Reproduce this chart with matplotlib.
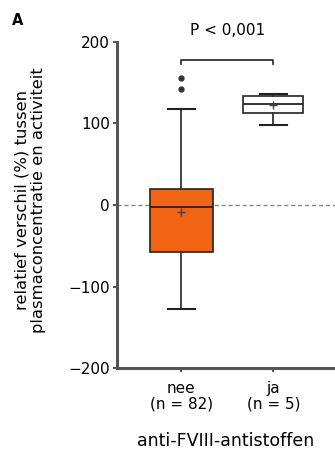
import matplotlib.pyplot as plt

plt.rcParams['font.family'] = ['DejaVu Sans']

groups = ['nee\n(n = 82)', 'ja\n(n = 5)']
q1 = [-58, 113]
med = [-3, 124]
q3 = [20, 134]
whislo = [-128, 98]
whishi = [118, 136]
means = [-9, 123]
fliers = [[142, 156], []]
p_text = 'P < 0,001'
bracket_y = 178

fig = plt.figure(figsize=(3.35, 4.66), dpi=100)
ax = fig.add_axes([0.349, 0.21, 0.651, 0.70])

stats = []
for i in range(len(groups)):
    stats.append(dict(q1=q1[i], med=med[i], q3=q3[i], whislo=whislo[i],
                      whishi=whishi[i], mean=means[i], fliers=fliers[i]))

bp = ax.bxp(stats, positions=[0, 1], widths=[0.68, 0.65], patch_artist=True,
            showmeans=True, meanline=False,
            boxprops=dict(linewidth=1.2, edgecolor='#222222'),
            whiskerprops=dict(linewidth=1.3, color='#333333'),
            capprops=dict(linewidth=1.5, color='#222222'),
            medianprops=dict(linewidth=1.3, color='#222222'),
            meanprops=dict(marker='+', markeredgecolor='#444444', markersize=6),
            flierprops=dict(marker='o', markerfacecolor='#333333',
                            markeredgecolor='#333333', markersize=3.5))
for c in bp['caps']:
    xd = c.get_xdata()
    mid = (xd[0] + xd[1]) / 2
    c.set_xdata([mid - 0.15, mid + 0.15])
bp['boxes'][0].set_facecolor('#f06414')
bp['boxes'][1].set_facecolor('white')

ax.axhline(0, color='#888888', linestyle=(0, (3, 2)), linewidth=1.0, zorder=0)

# significance bracket
ax.plot([0, 0, 1, 1], [bracket_y - 5, bracket_y, bracket_y, bracket_y - 5],
        color='#333333', linewidth=1.3, clip_on=False)
ax.text(0.5, 205, p_text, ha='center', va='bottom', fontsize=11, clip_on=False)

ax.set_xlim(-0.7, 1.67)
ax.set_ylim(-200, 200)
ax.set_yticks([-200, -100, 0, 100, 200])
ax.set_yticklabels(['\u2212200', '\u2212100', '0', '100', '200'])
ax.set_xticks([0, 1])
ax.set_xticklabels(groups, linespacing=1.05)
ax.tick_params(labelsize=11, length=3, width=1.5, color='#555555', pad=2)
ax.tick_params(axis='x', pad=6)

for s in ['top', 'right']:
    ax.spines[s].set_visible(False)
for s in ['left', 'bottom']:
    ax.spines[s].set_linewidth(2.2)
    ax.spines[s].set_color('#555555')

fig.text(0.09, 0.571, 'relatief verschil (%) tussen\nplasmaconcentratie en activiteit',
         rotation=90, ha='center', va='center', fontsize=11.8, linespacing=1.1)
ax.set_xlabel('anti-FVIII-antistoffen', fontsize=12.5, labelpad=15)

fig.text(0.036, 0.955, 'A', fontsize=10.5, fontweight='bold', ha='left', va='center')

fig.savefig('out.png', dpi=100)
